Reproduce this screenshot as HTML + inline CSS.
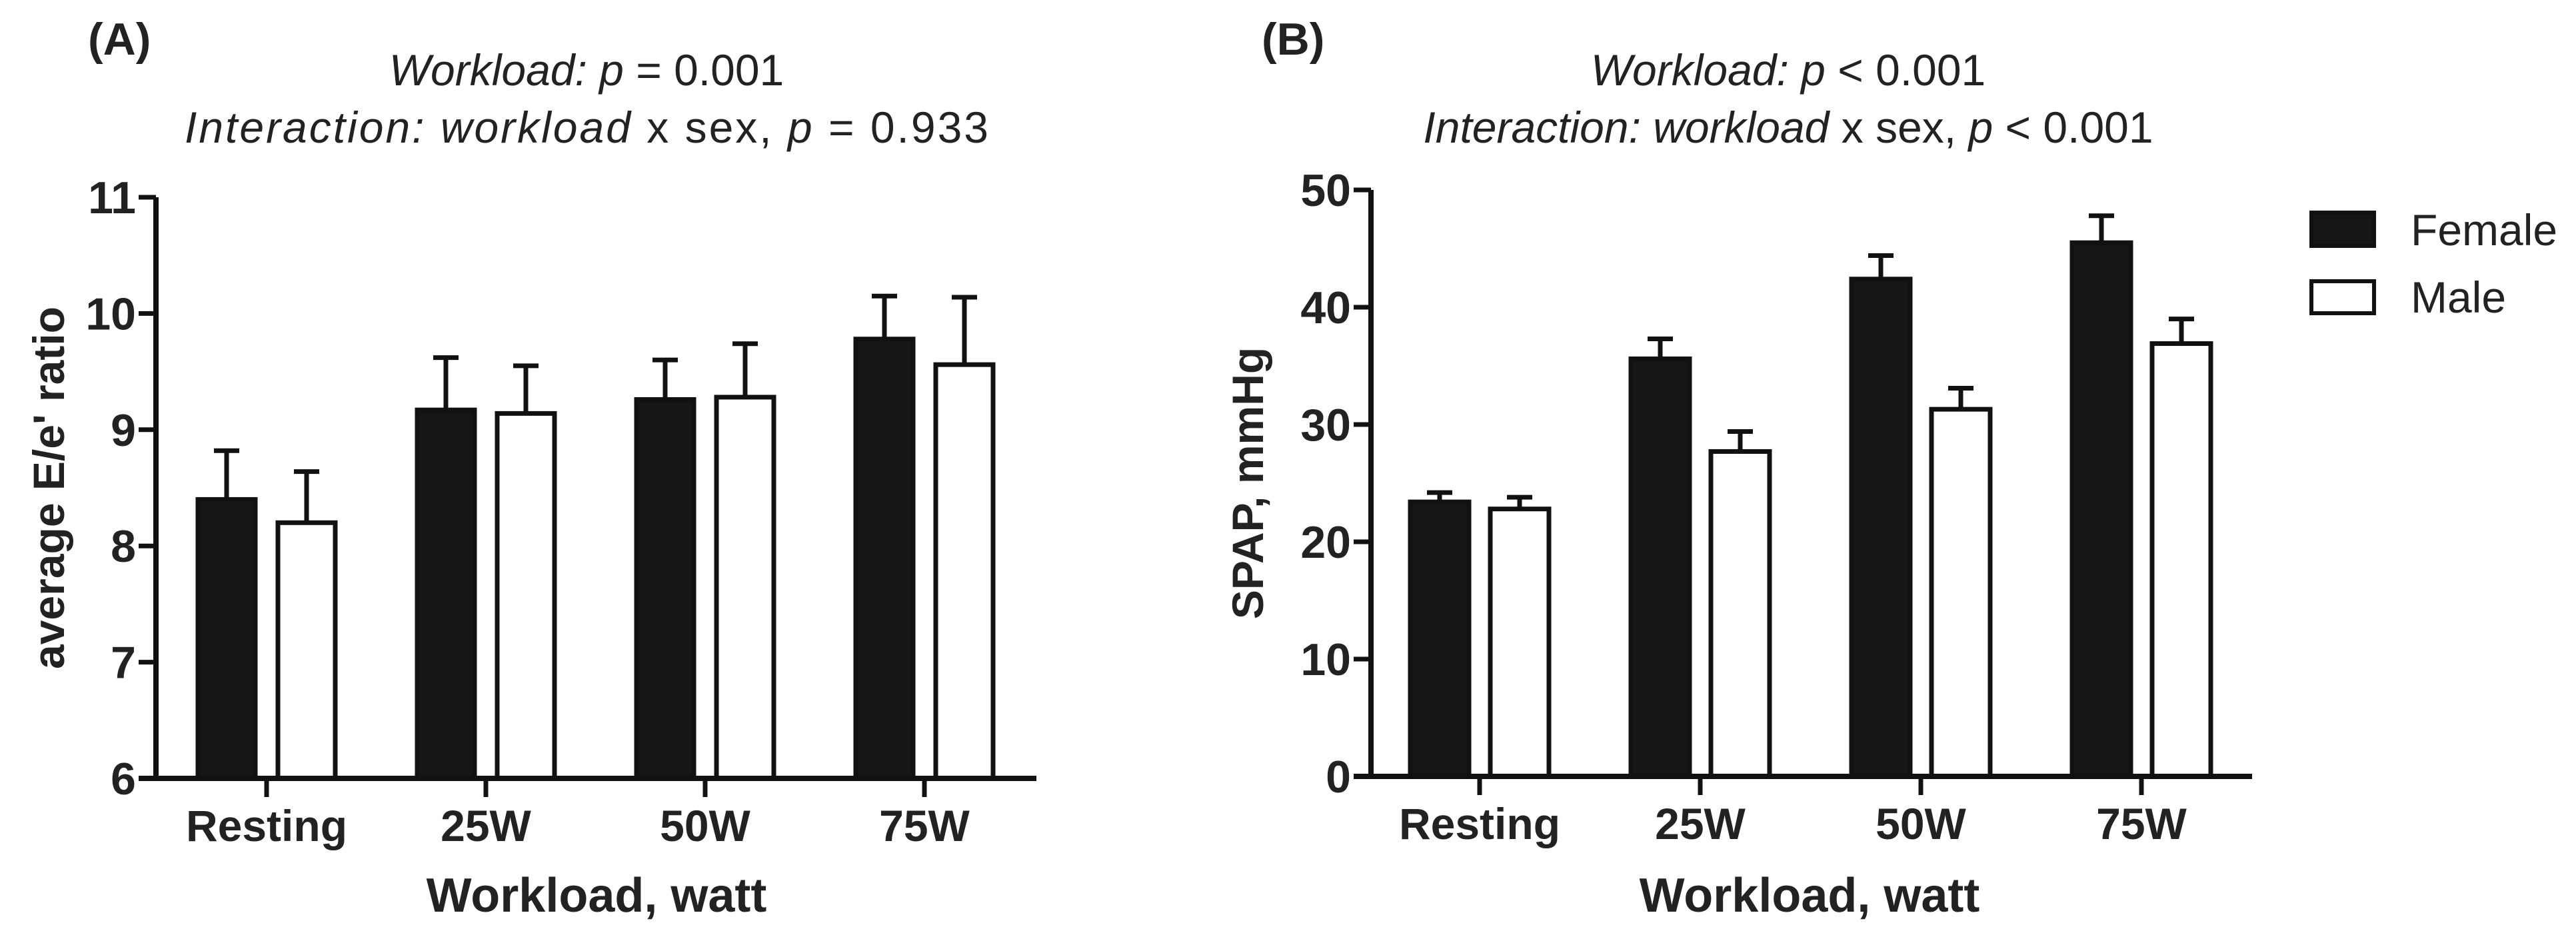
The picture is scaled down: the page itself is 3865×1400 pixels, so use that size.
<!DOCTYPE html>
<html><head><meta charset="utf-8"><style>
html,body{margin:0;padding:0;background:#fff;}
svg{display:block;font-family:"Liberation Sans",Arial,sans-serif;}
</style></head><body>
<svg id="fig" width="3865" height="1400" viewBox="0 0 3865 1400"></svg>
<script>
const categories = ["Resting","25W","50W","75W"];
const aFemale = [8.4, 9.17, 9.26, 9.78];
const aMale = [8.2, 9.14, 9.28, 9.56];
const aFemaleErr = [8.82, 9.62, 9.60, 10.15];
const aMaleErr = [8.64, 9.55, 9.74, 10.14];
const aTicks = [6,7,8,9,10,11];
const bFemale = [23.4, 35.6, 42.4, 45.5];
const bMale = [22.8, 27.7, 31.3, 36.9];
const bFemaleErr = [24.2, 37.3, 44.4, 47.8];
const bMaleErr = [23.8, 29.4, 33.1, 39.0];
const bTicks = [0,10,20,30,40,50];

const NS="http://www.w3.org/2000/svg";
const svg=document.getElementById('fig');
function mk(tag,attrs,parent){const e=document.createElementNS(NS,tag);for(const k in attrs)e.setAttribute(k,attrs[k]);(parent||svg).appendChild(e);return e;}

function panel(p){
  const g=mk('g',{});
  
  
  const Y=v=>p.y0-(v-p.min)/(p.max-p.min)*(p.y0-p.y1);
  categories.forEach((c,i)=>{
    const cx=p.c0+i*p.step;
    [[p.f,p.fe,'#161616','female'],[p.m,p.me,'#fff','male']].forEach((s,j)=>{
      const x=j===0?cx-p.off-p.bw:cx+p.off;
      const top=Y(s[0][i]), te=Y(s[1][i]);
      const xm=x+p.bw/2;
      const el=mk('line',{x1:xm,x2:xm,y1:top,y2:te,stroke:'#111','stroke-width':7},g);
      
      
      const cap=mk('line',{x1:xm-19,x2:xm+19,y1:te,y2:te,stroke:'#111','stroke-width':7},g);
      
      
      const r=mk('rect',{x:x,y:top,width:p.bw,height:p.y0-top,fill:s[2],stroke:'#111','stroke-width':7},g);
      
      
    });
    const t=mk('line',{x1:cx,x2:cx,y1:p.y0,y2:p.y0+28,stroke:'#111','stroke-width':7},g);
    
    
    const lb=mk('text',{x:cx,y:p.y0+94,'text-anchor':'middle','font-size':66,'font-weight':'bold',fill:'#222'},g);
    lb.textContent=c;
    
    
  });
  const ax=mk('path',{d:`M${p.ax} ${Y(p.max)} V${p.y0} M${p.ax-26} ${p.y0} H${p.xend}`,stroke:'#111','stroke-width':8,fill:'none'},g);
  
  
  p.ticks.forEach((v,i)=>{
    const tk=mk('line',{x1:p.ax-26,x2:p.ax,y1:Y(v),y2:Y(v),stroke:'#111','stroke-width':7},g);
    
    
    const tl=mk('text',{x:p.ax-30,y:Y(v)+24,'text-anchor':'end','font-size':68,'font-weight':'bold',fill:'#222'},g);
    tl.textContent=v;
    
    
  });
}
panel({id:'a',min:6,max:11,y0:1168,y1:296,ax:234,xend:1555,c0:400,step:329,bw:86,off:17,f:aFemale,m:aMale,fe:aFemaleErr,me:aMaleErr,ticks:aTicks});
panel({id:'b',min:0,max:50,y0:1165,y1:285,ax:2057,xend:3379,c0:2220,step:331,bw:88,off:16,f:bFemale,m:bMale,fe:bFemaleErr,me:bMaleErr,ticks:bTicks});
</script>
<svg style="position:absolute;left:0;top:0" width="3865" height="1400" viewBox="0 0 3865 1400">
<g font-family="Liberation Sans, Arial, sans-serif" fill="#222">
<text x="132" y="82" font-size="68" font-weight="bold">(A)</text>
<text x="880" y="128" font-size="66" text-anchor="middle"><tspan font-style="italic">Workload: p</tspan> = 0.001</text>
<text x="880" y="214" font-size="66" text-anchor="middle" textLength="1206"><tspan font-style="italic">Interaction: workload</tspan> x sex, <tspan font-style="italic">p</tspan> = 0.933</text>
<text transform="translate(96,732) rotate(-90)" font-size="66" font-weight="bold" text-anchor="middle">average E/e' ratio</text>
<text x="895" y="1368" font-size="72" font-weight="bold" text-anchor="middle">Workload, watt</text>
<text x="1893" y="82" font-size="68" font-weight="bold">(B)</text>
<text x="2683" y="128" font-size="66" text-anchor="middle"><tspan font-style="italic">Workload: p</tspan> &lt; 0.001</text>
<text x="2683" y="214" font-size="66" text-anchor="middle"><tspan font-style="italic">Interaction: workload</tspan> x sex, <tspan font-style="italic">p</tspan> &lt; 0.001</text>
<text transform="translate(1895,725) rotate(-90)" font-size="66" font-weight="bold" text-anchor="middle">SPAP, mmHg</text>
<text x="2715" y="1368" font-size="72" font-weight="bold" text-anchor="middle">Workload, watt</text>
<g>
<rect x="3468" y="319" width="94" height="50" fill="#161616" stroke="#111" stroke-width="6"/>
<text x="3617" y="368" font-size="66">Female</text>
<rect x="3468" y="422" width="94" height="48" fill="#fff" stroke="#111" stroke-width="6"/>
<text x="3617" y="469" font-size="66">Male</text>
</g>
</g>
</svg>
</body></html>
